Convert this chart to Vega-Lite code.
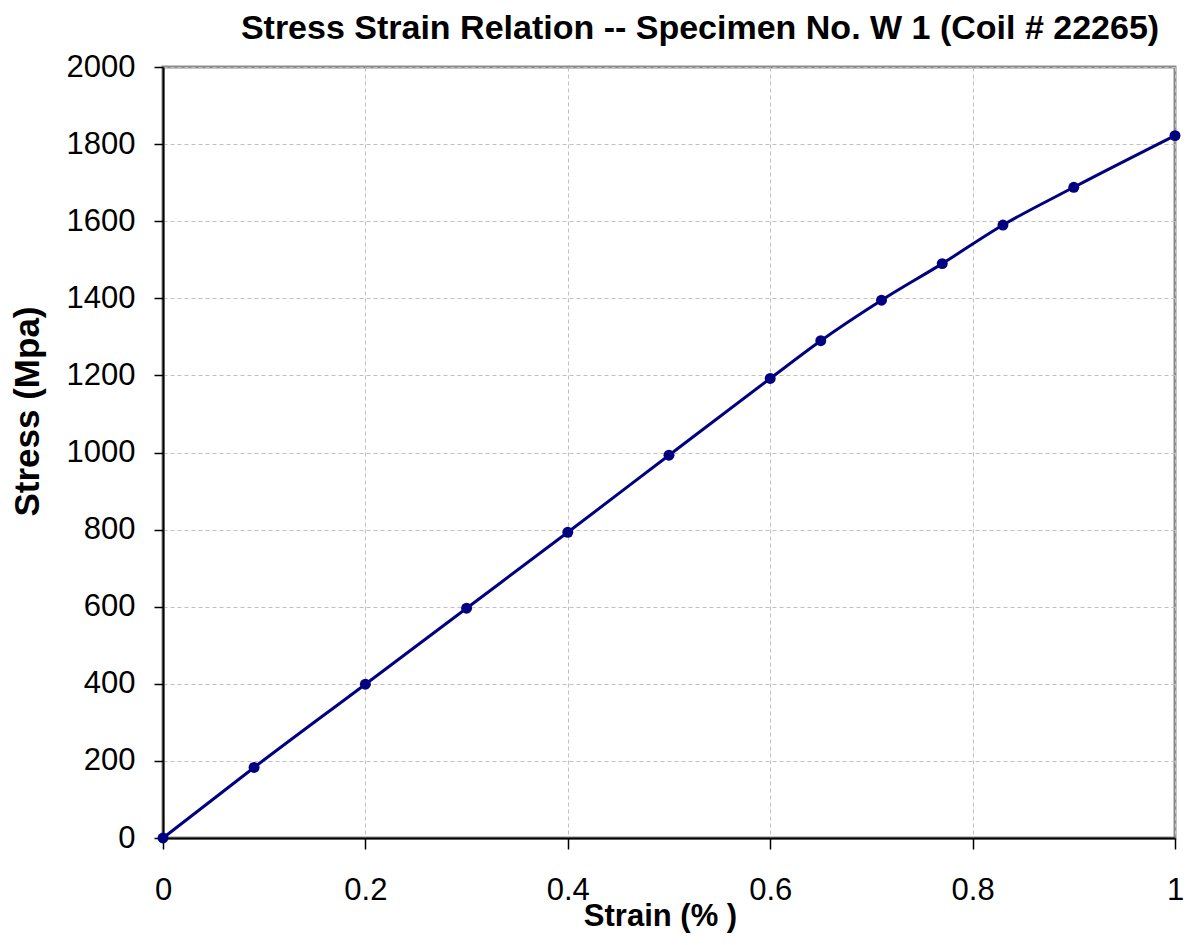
{
  "$schema": "https://vega.github.io/schema/vega-lite/v6.json",
  "autosize": {"type": "none"},
  "width": 1012,
  "height": 771,
  "padding": {"left": 163, "top": 67, "right": 12, "bottom": 107},
  "background": "white",
  "title": {
    "text": "Stress Strain Relation -- Specimen No. W 1 (Coil # 22265)",
    "anchor": "middle",
    "dx": 31,
    "offset": 5,
    "font": "Liberation Sans",
    "fontSize": 34,
    "fontWeight": "bold",
    "color": "#000000"
  },
  "config": {
    "view": {"stroke": "#8c8c8c", "strokeWidth": 3},
    "axis": {
      "labelFont": "Liberation Sans",
      "titleFont": "Liberation Sans",
      "labelColor": "#000000",
      "titleColor": "#000000",
      "domainColor": "#000000",
      "domainWidth": 2,
      "tickColor": "#000000",
      "tickWidth": 1.5,
      "gridColor": "#c0c0c0",
      "gridDash": [4, 3],
      "gridWidth": 1,
      "labelFlush": false
    }
  },
  "data": {
    "values": [
      {"strain": 0.0, "stress": 0},
      {"strain": 0.09, "stress": 183},
      {"strain": 0.2, "stress": 399},
      {"strain": 0.3, "stress": 596},
      {"strain": 0.4, "stress": 793},
      {"strain": 0.5, "stress": 993},
      {"strain": 0.6, "stress": 1192},
      {"strain": 0.65, "stress": 1290},
      {"strain": 0.71, "stress": 1395},
      {"strain": 0.77, "stress": 1490},
      {"strain": 0.83, "stress": 1590},
      {"strain": 0.9, "stress": 1688},
      {"strain": 1.0, "stress": 1822}
    ]
  },
  "encoding": {
    "x": {
      "field": "strain",
      "type": "quantitative",
      "scale": {"domain": [0, 1], "nice": false},
      "axis": {
        "title": "Strain (% )",
        "values": [0, 0.2, 0.4, 0.6, 0.8, 1],
        "format": "~g",
        "labelFontSize": 31,
        "labelPadding": 26,
        "tickSize": 11,
        "titleFontSize": 31,
        "titleFontWeight": "bold",
        "titleX": 497,
        "titleY": 87,
        "titleBaseline": "alphabetic",
        "titleAnchor": null
      }
    },
    "y": {
      "field": "stress",
      "type": "quantitative",
      "scale": {"domain": [0, 2000], "nice": false},
      "axis": {
        "title": "Stress (Mpa)",
        "values": [0, 200, 400, 600, 800, 1000, 1200, 1400, 1600, 1800, 2000],
        "format": "d",
        "labelFontSize": 31,
        "labelPadding": 19,
        "tickSize": 9,
        "titleFontSize": 35,
        "titleFontWeight": "bold",
        "titleAngle": 270,
        "titleX": -136,
        "titleY": 344,
        "titleAlign": "center",
        "titleBaseline": "middle"
      }
    }
  },
  "layer": [
    {
      "mark": {"type": "line", "color": "#000080", "strokeWidth": 3, "interpolate": "monotone"}
    },
    {
      "mark": {"type": "point", "filled": true, "color": "#000080", "opacity": 1, "size": 120}
    }
  ]
}
